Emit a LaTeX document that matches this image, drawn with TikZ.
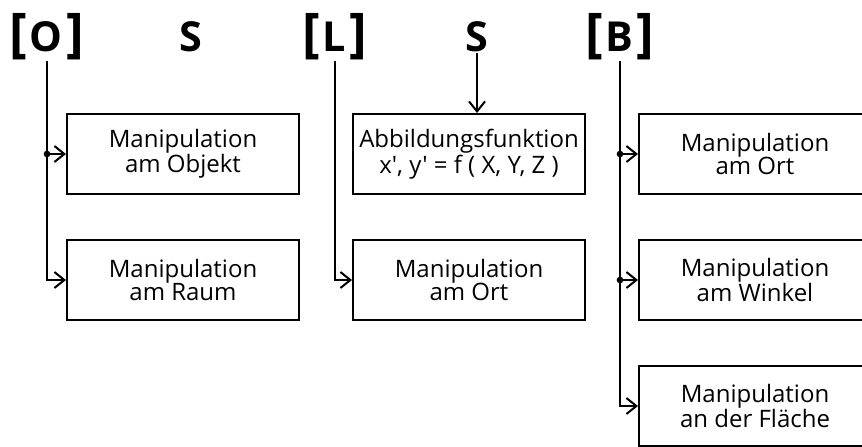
\documentclass[tikz,border=0pt]{standalone}
\usepackage{fontspec}
\setmainfont{Open Sans}[Ligatures=TeXOff]
\usetikzlibrary{arrows.meta}

\newcommand{\hdlab}[1]{{\fontsize{40}{40}\selectfont[}\kern1.5pt#1\kern3pt{\fontsize{40}{40}\selectfont]}}

\tikzset{every picture/.style={line width=1.5pt}}
\tikzset{
  mbox/.style={draw, line width=1.5pt, minimum width=174pt, minimum height=60pt, inner sep=0pt, align=center, font=\fontsize{18}{17.5}\selectfont},
  head/.style={inner sep=0pt, font=\fontsize{31}{31}\selectfont\bfseries},
  barb/.style={-{Straight Barb[length=7.5pt,width=12pt,line width=1.5pt]}},
  junc/.style={circle, fill, inner sep=0pt, minimum size=5pt}
}

\begin{document}
\begin{tikzpicture}[x=0.75pt,y=0.75pt,yscale=-1,xscale=1]
    \useasboundingbox (0,0) rectangle (862,446);
    \clip (0,0) rectangle (862,446);

    % Text Node
    \node [head] (labO) at (47,37) {\hdlab{O}};
    \node [head] (s1) at (191,37) {S};
    \node [head] (labL) at (335,37) {\hdlab{L}};
    \node [head] (s2) at (477,37) {S};
    \node [head] (labB) at (620,37) {\hdlab{B}};

    %Shape: Rectangle
    \node [mbox] (objekt) at (183,154) {Manipulation\\am Objekt};
    \node [mbox] (raum) at (183,280) {Manipulation\\am Raum};
    \node [mbox] (abb) at (469,154) {Abbildungsfunktion\\x', y' = f ( X, Y, Z )};
    \node [mbox] (ortL) at (469,280) {Manipulation\\am Ort};
    \node [mbox] (ortB) at (755,154) {Manipulation\\am Ort};
    \node [mbox] (winkel) at (755,280) {Manipulation\\am Winkel};
    \node [mbox] (flaeche) at (755,406) {Manipulation\\an der Fläche};

    %Straight Lines
    \draw [barb] (labO.south) |- (raum.west);
    \draw [barb] (labO |- objekt.west) -- (objekt.west);
    \node [junc] at (labO |- objekt.west) {};
    \draw [barb] (labL.south) |- (ortL.west);
    \draw [barb] (s2.south) -- (s2.south |- abb.north);
    \draw [barb] (labB.south) |- (flaeche.west);
    \draw [barb] (labB |- ortB.west) -- (ortB.west);
    \draw [barb] (labB |- winkel.west) -- (winkel.west);
    \node [junc] at (labB |- ortB.west) {};
    \node [junc] at (labB |- winkel.west) {};
\end{tikzpicture}
\end{document}
